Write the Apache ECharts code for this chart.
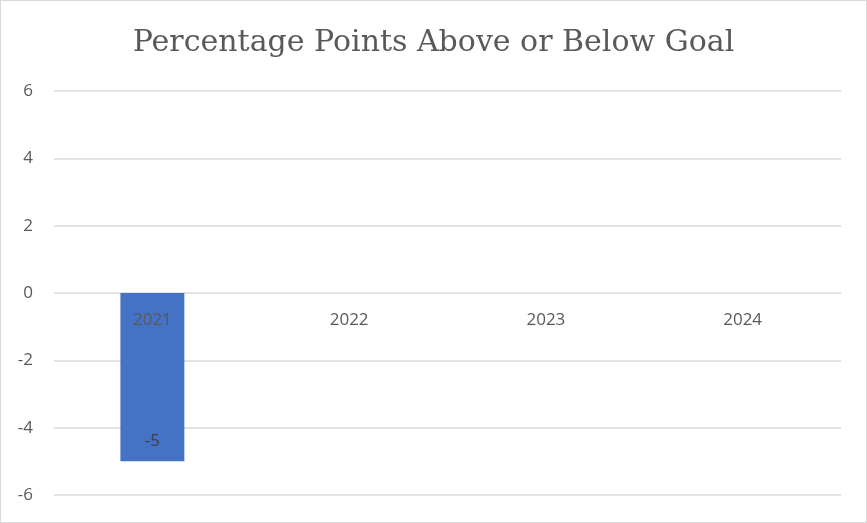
<!DOCTYPE html>
<html>
<head>
<meta charset="utf-8">
<script src="https://cdn.jsdelivr.net/npm/echarts@6/dist/echarts.min.js"></script>
<style>
    html, body { margin: 0; padding: 0; background: #fff; }
    .chart { width: 865px; height: 521px; border: 1px solid #d9d9d9; }
</style>
</head>
<body>
<div class="chart"></div>
<script>
// 数据
var years = ["2021", "2022", "2023", "2024"];
var values = [-5, null, null, null];
var yTicks = { min: -6, max: 6, interval: 2 };

(function () {
    var myChart = echarts.init(document.querySelector(".chart"));
    var labelFont = "'Open Sans', sans-serif";
    var gridTop = 90, gridBottom = 27, chartH = 521;
    // x轴标签放在0的位置
    var zeroOffset = -(chartH - gridTop - gridBottom) * (0 - yTicks.min) / (yTicks.max - yTicks.min);
    var option = {
        title: {
            text: "Percentage Points Above or Below Goal",
            left: "center",
            top: 22,
            textStyle: {
                fontFamily: "Rockwell, 'DejaVu Serif', serif",
                fontWeight: "normal",
                fontSize: 30,
                color: "#595959",
            },
        },
        grid: {
            left: 53,
            right: 25,
            top: gridTop,
            bottom: gridBottom,
            containLabel: false,
            outerBoundsMode: "none",
        },
        xAxis: {
            type: "category",
            data: years,
            position: "bottom",
            offset: zeroOffset,
            axisLine: { show: false, onZero: false },
            axisTick: { show: false },
            axisLabel: {
                color: "#595959",
                fontSize: 17,
                fontFamily: labelFont,
                margin: 19,
            },
            z: 10,
        },
        yAxis: {
            type: "value",
            min: yTicks.min,
            max: yTicks.max,
            interval: yTicks.interval,
            axisLine: { show: false },
            axisTick: { show: false },
            axisLabel: {
                color: "#595959",
                fontSize: 17,
                fontFamily: labelFont,
                margin: 21,
            },
            splitLine: {
                lineStyle: { color: "#d9d9d9", width: 1.5 },
            },
        },
        series: [
            {
                type: "bar",
                data: values,
                barWidth: "32.5%",
                itemStyle: { color: "#4472c4" },
                label: {
                    show: true,
                    position: "insideBottom",
                    distance: 12,
                    color: "#404040",
                    fontSize: 17,
                    fontFamily: labelFont,
                },
            },
        ],
    };
    myChart.setOption(option);
})();
</script>
</body>
</html>
